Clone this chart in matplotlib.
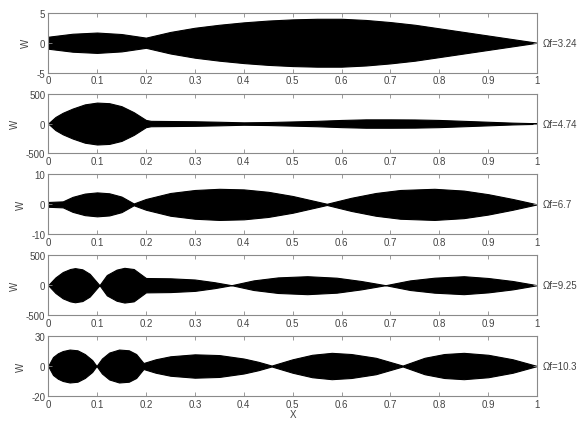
import numpy as np
import matplotlib
matplotlib.use("Agg")
import matplotlib.pyplot as plt

plt.rcParams['font.family'] = ['Liberation Sans', 'DejaVu Sans']

# envelope amplitudes (response is drawn as a filled band)
x1 = [0, 0.05, 0.1, 0.15, 0.2, 0.25, 0.3, 0.35, 0.4, 0.45, 0.5, 0.55, 0.6, 0.65, 0.7, 0.75, 0.8, 0.85, 0.9, 0.95, 1.0]
a1 = [1.0, 1.5, 1.7, 1.45, 0.85, 1.8, 2.5, 3.0, 3.4, 3.7, 3.9, 4.0, 4.0, 3.8, 3.45, 3.0, 2.4, 1.8, 1.2, 0.6, 0.0]

x2 = [0, 0.015, 0.03, 0.05, 0.075, 0.1, 0.125, 0.15, 0.175, 0.2, 0.21, 0.25, 0.3, 0.35, 0.4, 0.45, 0.5, 0.55,
      0.6, 0.65, 0.7, 0.75, 0.8, 0.85, 0.9, 0.95, 1.0]
a2 = [0, 110, 180, 250, 320, 350, 340, 290, 190, 60, 45, 42, 38, 30, 20, 25, 35, 45,
      60, 70, 70, 68, 60, 45, 30, 15, 5]

x3 = [0, 0.03, 0.05, 0.075, 0.1, 0.125, 0.15, 0.175, 0.2, 0.25, 0.3, 0.35, 0.4, 0.45, 0.5, 0.57,
      0.62, 0.67, 0.72, 0.79, 0.85, 0.9, 0.95, 1.0]
a3 = [0.8, 1.0, 2.5, 3.6, 4.0, 3.7, 2.6, 0.3, 1.8, 3.8, 4.8, 5.2, 5.0, 4.2, 2.8, 0.2,
      2.2, 3.8, 4.8, 5.2, 4.6, 3.4, 1.8, 0.0]

x4 = [0, 0.015, 0.03, 0.045, 0.055, 0.07, 0.085, 0.105, 0.12, 0.14, 0.156, 0.175, 0.19, 0.2, 0.25,
      0.3, 0.34, 0.375, 0.42, 0.47, 0.53, 0.59, 0.64, 0.69, 0.74, 0.79, 0.85, 0.9, 0.95, 1.0]
a4 = [0, 130, 220, 270, 285, 265, 190, 0, 170, 260, 290, 270, 180, 120, 115,
      95, 50, 0, 80, 130, 150, 125, 70, 0, 80, 125, 150, 120, 70, 0]

x5 = [0, 0.01, 0.02, 0.03, 0.044, 0.06, 0.075, 0.09, 0.099, 0.11, 0.125, 0.145, 0.165, 0.18, 0.195,
      0.22, 0.25, 0.3, 0.35, 0.4, 0.43, 0.457, 0.5, 0.54, 0.58, 0.62, 0.67, 0.725, 0.77, 0.81,
      0.85, 0.9, 0.95, 1.0]
a5 = [0, 6, 8.5, 10, 11, 10.5, 8, 4, 0, 5, 9, 11, 10.5, 8, 2.0,
      4.5, 6.5, 7.8, 7.3, 5, 2.8, 0.3, 4.5, 7.5, 8.8, 8, 5.5, 0.3, 5.5, 8,
      8.8, 7.5, 4.5, 0]

xs = [x1, x2, x3, x4, x5]
amps = [a1, a2, a3, a4, a5]
ylims = [(-5, 5), (-500, 500), (-10, 10), (-500, 500), (-20, 20)]
yticks = [[-5, 0, 5], [-500, 0, 500], [-10, 0, 10], [-500, 0, 500], [-20, 0, 20]]
yticklabels = [["-5", "0", "5"], ["-500", "0", "500"], ["-10", "0", "10"],
               ["-500", "0", "500"], ["-20", "0", "30"]]
omega = ["Ωf=3.24", "Ωf=4.74", "Ωf=6.7", "Ωf=9.25", "Ωf=10.3"]
xticks = [0, 0.1, 0.2, 0.3, 0.4, 0.5, 0.6, 0.7, 0.8, 0.9, 1.0]
xticklabels = ["0", "0.1", "0.2", "0.3", "0.4", "0.5", "0.6", "0.7", "0.8", "0.9", "1"]

fig, axes = plt.subplots(5, 1, figsize=(5.87, 4.31), dpi=100)
fig.subplots_adjust(left=0.082, right=0.915, top=0.968, bottom=0.079, hspace=0.35)

edge = '#8a8a8a'
txt = '#444444'
for i, ax in enumerate(axes):
    x = np.array(xs[i])
    a = np.array(amps[i])
    ax.fill_between(x, -a, a, color='black', linewidth=0.8, edgecolor='black')
    ax.set_xlim(0, 1)
    ax.set_ylim(*ylims[i])
    ax.set_xticks(xticks)
    ax.set_xticklabels(xticklabels)
    ax.set_yticks(yticks[i])
    ax.set_yticklabels(yticklabels[i])
    ax.tick_params(direction='in', top=True, right=True, length=3, width=0.6,
                   colors=edge, labelcolor=txt, labelsize=7, pad=2)
    for s in ax.spines.values():
        s.set_color(edge)
        s.set_linewidth(0.8)
    ax.set_ylabel("W", fontsize=7, color=txt, labelpad=4)
    ax.text(1.012, 0.5, omega[i], transform=ax.transAxes, ha='left', va='center',
            fontsize=7, color=txt)

axes[-1].set_xlabel("X", fontsize=7, color=txt, labelpad=0)

plt.savefig("out.png", dpi=100)
